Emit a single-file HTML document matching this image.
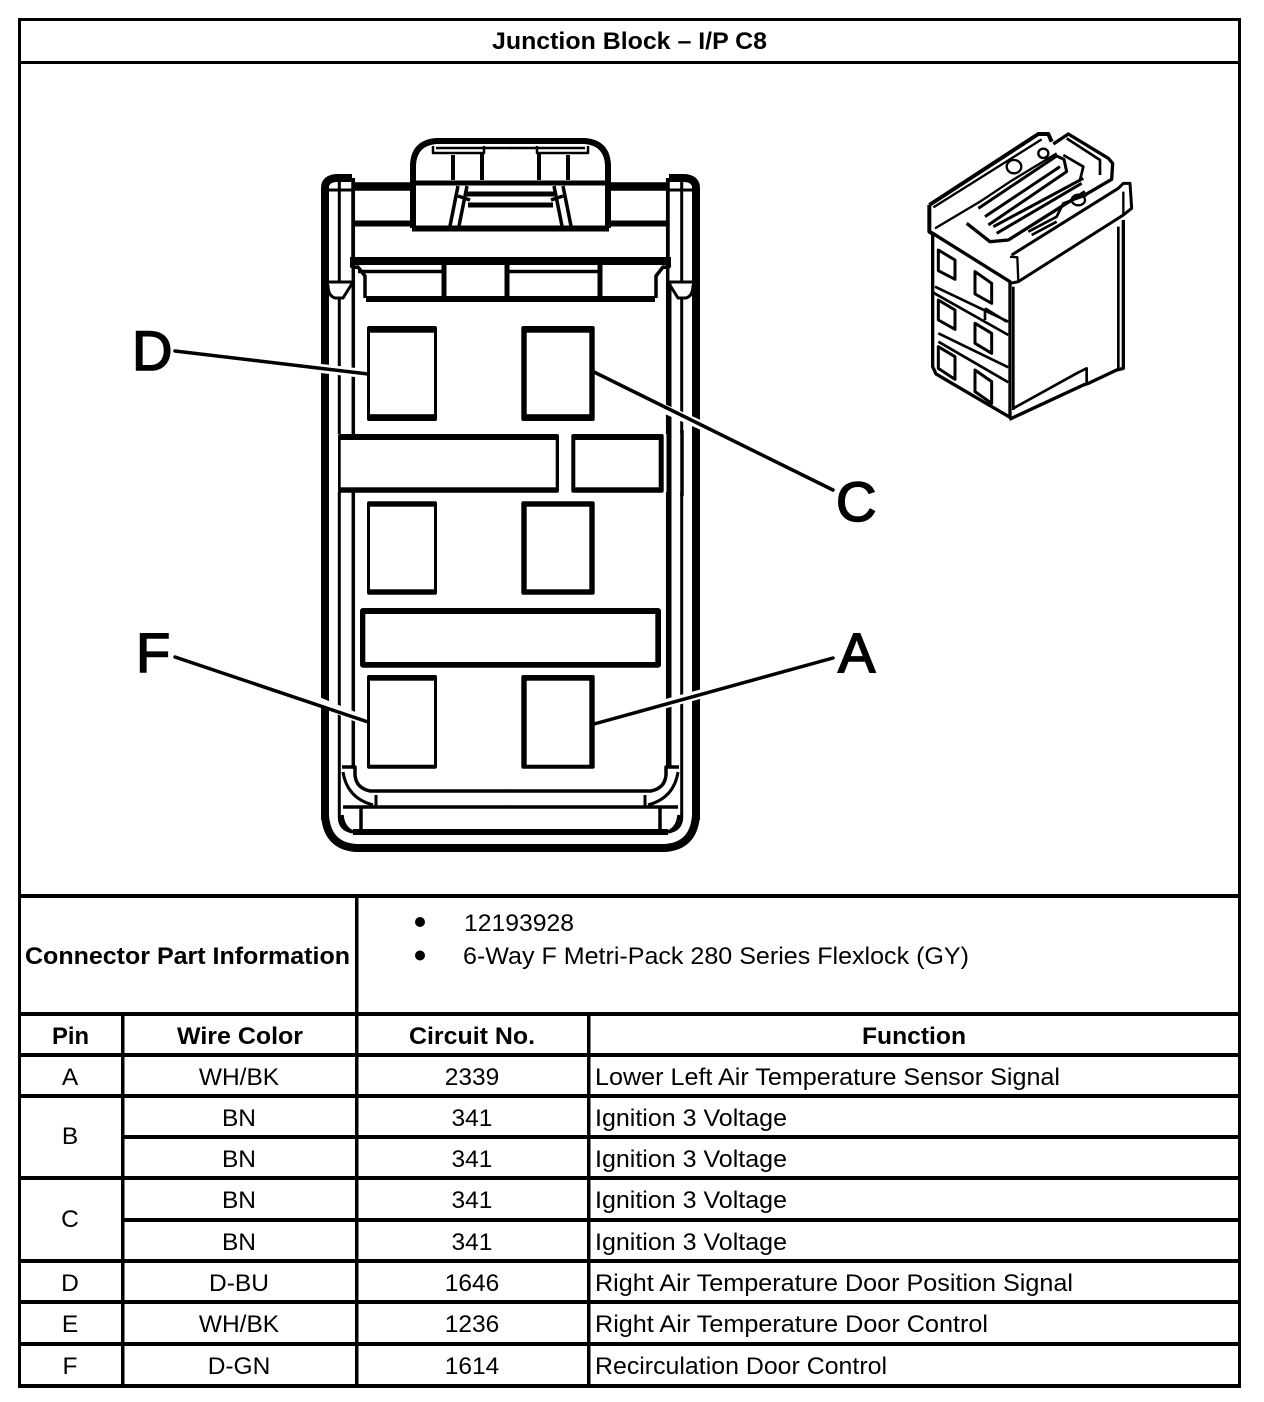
<!DOCTYPE html>
<html><head><meta charset="utf-8"><style>
html,body{margin:0;padding:0;background:#fff;width:1264px;height:1402px;overflow:hidden}
svg{display:block}
text{font-family:"Liberation Sans",sans-serif;font-size:24.5px;fill:#000}
.b{font-weight:bold}
.m{text-anchor:middle}
.big{font-size:56px;stroke:#000;stroke-width:1.6px}
.l{fill:none;stroke:#000;stroke-linejoin:round;stroke-linecap:butt}
</style></head><body>
<svg width="1264" height="1402" viewBox="0 0 1264 1402" xmlns="http://www.w3.org/2000/svg">
<rect width="1264" height="1402" fill="#fff"/>

<!-- table grid -->
<g fill="#000" shape-rendering="crispEdges">
<rect x="18" y="18" width="1223" height="3"/>
<rect x="18" y="61" width="1223" height="3"/>
<rect x="18" y="894" width="1223" height="4"/>
<rect x="18" y="1012" width="1223" height="4"/>
<rect x="18" y="1053" width="1223" height="4"/>
<rect x="18" y="1094" width="1223" height="4"/>
<rect x="122" y="1135" width="1119" height="4"/>
<rect x="18" y="1176" width="1223" height="4"/>
<rect x="122" y="1218" width="1119" height="4"/>
<rect x="18" y="1259" width="1223" height="4"/>
<rect x="18" y="1300" width="1223" height="4"/>
<rect x="18" y="1342" width="1223" height="4"/>
<rect x="18" y="1384" width="1223" height="4"/>
<rect x="18" y="18" width="3" height="1370"/>
<rect x="1238" y="18" width="3" height="1370"/>
<rect x="121" y="1014" width="3.5" height="372"/>
<rect x="355" y="896" width="3.5" height="490"/>
<rect x="587" y="1014" width="3.5" height="372"/>
</g>

<!-- main connector: symmetric half, mirrored -->
<defs>
<g id="half">
<path class="l" stroke-width="8" d="M325 820V188Q325 179 336 178H352"/>
<path class="l" stroke-width="3" d="M339.3 178V282M339.3 298V434M339.3 492V818Q340 830 353 832"/>
<path class="l" stroke-width="3.5" d="M353.3 178V434M353.3 492V767"/>
<path class="l" stroke-width="3" d="M328 190H353M328 282H353L343 298H335Q328 296 328 285"/>
<path class="l" stroke-width="8" d="M325 815Q327 846 356 848H511"/>
<path class="l" stroke-width="6" d="M353 832H511"/>
<path class="l" stroke-width="3.5" d="M342 767H355V775Q356 788 370 791H511"/>
<path class="l" stroke-width="3" d="M343 772Q347 798 373 805M376 795V806"/>
<path class="l" stroke-width="3.5" d="M343 807H511M361 807V830M342 815Q343 828 353 832"/>
<path class="l" stroke-width="8.5" d="M352 186.500H411"/>
<path class="l" stroke-width="6" d="M352 223.500H412"/>
<path class="l" stroke-width="3.500" d="M353 182V260"/>
<path class="l" stroke-width="8" d="M350 261H511"/>
<path class="l" stroke-width="3.500" d="M352 265Q350 268 358 267L365 276V298"/>
<path class="l" stroke-width="6" d="M366 299H511"/>
<path class="l" stroke-width="6" d="M413 228V165Q414 143 436 141H511"/>
<path class="l" stroke-width="5" d="M413 183H511"/>
<path class="l" stroke-width="6" d="M412 228.500H511"/>
<path class="l" stroke-width="2.500" d="M433 146V153H484V146M436 148H511"/>
<path class="l" stroke-width="4" d="M453 155V180M482 153V180"/>
<path class="l" stroke-width="3.500" d="M458 186L450 226M467 186L459 226M458 196L470 200"/>
<path class="l" stroke-width="5" d="M467 194H511M468 205H511"/>
</g>
</defs>
<use href="#half"/>
<use href="#half" transform="translate(1021 0) scale(-1 1)"/>
<!-- asymmetric top details -->
<path class="l" stroke-width="3.500" d="M358 271.500H444M507 271.500H600"/>
<path class="l" stroke-width="5" d="M444 264V298M507 264V298M600 264V298"/>
<!-- right side lines are continuous past the bars -->
<path class="l" stroke-width="5" d="M669 282V767"/>
<path class="l" stroke-width="3.500" d="M682 430V496"/>

<!-- leaders with halo -->
<g fill="none" stroke="#fff" stroke-width="9">
<path d="M300 366L368 374"/><path d="M300 694L368 722"/>
<path d="M640 398L730 438"/><path d="M650 708L730 686"/>
</g>
<g stroke="#000" stroke-width="3.500" fill="none" stroke-linecap="round">
<path d="M175 351L368 374"/>
<path d="M175 657L368 722"/>
<path d="M594 372L833 490"/>
<path d="M594 724L833 658"/>
</g>

<!-- cavities -->
<g>
<rect x="367" y="326" width="70" height="95" rx="2"/><rect x="370" y="332.700" width="64" height="81.500" fill="#fff"/>
<rect x="521.300" y="326" width="73.400" height="95" rx="2"/><rect x="526.700" y="332.700" width="62.600" height="81.500" fill="#fff"/>
<rect x="367" y="501.300" width="70" height="93.400" rx="2"/><rect x="370" y="506.700" width="64" height="82.600" fill="#fff"/>
<rect x="521.300" y="501.300" width="73.400" height="93.400" rx="2"/><rect x="526.700" y="506.700" width="62.600" height="82.600" fill="#fff"/>
<rect x="367" y="675" width="70" height="93.700" rx="2"/><rect x="370" y="680.700" width="64" height="84" fill="#fff"/>
<rect x="521.300" y="675" width="73.400" height="93.700" rx="2"/><rect x="526.700" y="680.700" width="62.600" height="84" fill="#fff"/>
<rect x="338" y="434" width="221" height="58.700" rx="2"/><rect x="340.700" y="440" width="215" height="47.300" fill="#fff"/>
<rect x="571.300" y="434" width="92.400" height="58.700" rx="2"/><rect x="575.300" y="440" width="83.400" height="47.300" fill="#fff"/>
<rect x="360" y="608" width="301" height="59.700" rx="3"/><rect x="365.300" y="614" width="290" height="48" fill="#fff"/>
</g>

<!-- isometric connector -->
<g transform="translate(910 120) scale(.33333)" fill="none" stroke="#000" stroke-linejoin="round" stroke-width="9">
<path stroke-width="12" d="M58 255L385 42L415 42L425 65M58 255V335L75 345"/>
<path stroke-width="7" d="M70 262L395 58M75 325L210 245L300 185L440 100"/>
<path stroke-width="10" d="M430 72L475 42L595 115L608 130L605 178L525 225"/>
<path stroke-width="8" d="M470 55L570 120V165M460 105L520 140L510 180"/>
<path stroke-width="10" d="M170 310L240 365L295 360L525 215"/>
<path stroke-width="9" d="M205 265L440 108L462 118L470 155L235 315M225 290L450 140M250 320L520 175M260 340L515 190"/>
<path stroke-width="8" d="M355 335L440 290L460 250L530 225M365 345L440 305"/>
<ellipse cx="312" cy="140" rx="22" ry="20" stroke-width="7"/>
<ellipse cx="400" cy="100" rx="15" ry="14" stroke-width="7"/>
<ellipse cx="505" cy="240" rx="20" ry="16" stroke-width="7"/>
<path stroke-width="10" d="M68 340L300 485V892L78 762L68 740V340"/>
<path stroke-width="9" d="M305 405L625 205L640 190H660L665 265L640 285L325 485L300 490"/>
<path stroke-width="7" d="M300 410L322 412L325 485M640 215V285"/>
<path stroke-width="10" d="M640 300V745L620 750L535 790L520 795L298 898"/>
<path stroke-width="8" d="M625 320V745M310 500V870M310 865L500 760L530 745V790"/>
<path stroke-width="8" d="M75 500L295 605M70 518L295 645M85 640L295 742M85 665L295 787M225 565L290 605M225 565V600"/>
<path d="M85 390L135 420V478L85 452Z M195 455L245 490V550L195 522Z M85 540L135 570V628L85 600Z M195 610L245 640V700L195 670Z M85 680L135 710V778L85 745Z M195 750L245 785V850L195 815Z"/>
</g>

<!-- big letters -->
<text class="big" x="132" y="370">D</text>
<text class="big" x="836" y="521">C</text>
<text class="big" x="136" y="672">F</text>
<text class="big" x="838" y="672">A</text>

<!-- table text -->
<text class="b" x="492" y="49" textLength="275" lengthAdjust="spacingAndGlyphs">Junction Block – I/P C8</text>
<text class="b" x="25" y="964" textLength="325" lengthAdjust="spacingAndGlyphs">Connector Part Information</text>
<circle cx="420" cy="922" r="5"/><circle cx="420" cy="955.500" r="5"/>
<text x="464" y="931" textLength="110" lengthAdjust="spacingAndGlyphs">12193928</text>
<text x="463" y="964" textLength="506" lengthAdjust="spacingAndGlyphs">6-Way F Metri-Pack 280 Series Flexlock (GY)</text>

<text class="b" x="52" y="1044" textLength="37" lengthAdjust="spacingAndGlyphs">Pin</text>
<text class="b" x="177" y="1044" textLength="126" lengthAdjust="spacingAndGlyphs">Wire Color</text>
<text class="b" x="409" y="1044" textLength="126" lengthAdjust="spacingAndGlyphs">Circuit No.</text>
<text class="b" x="862" y="1044" textLength="104" lengthAdjust="spacingAndGlyphs">Function</text>

<text class="m" x="70" y="1085">A</text><text class="m" x="239" y="1085">WH/BK</text><text class="m" x="472" y="1085">2339</text>
<text x="595" y="1085" textLength="465" lengthAdjust="spacingAndGlyphs">Lower Left Air Temperature Sensor Signal</text>

<text class="m" x="70" y="1144">B</text>
<text class="m" x="239" y="1126">BN</text><text class="m" x="472" y="1126">341</text>
<text x="595" y="1126" textLength="192" lengthAdjust="spacingAndGlyphs">Ignition 3 Voltage</text>
<text class="m" x="239" y="1167">BN</text><text class="m" x="472" y="1167">341</text>
<text x="595" y="1167" textLength="192" lengthAdjust="spacingAndGlyphs">Ignition 3 Voltage</text>

<text class="m" x="70" y="1227">C</text>
<text class="m" x="239" y="1208">BN</text><text class="m" x="472" y="1208">341</text>
<text x="595" y="1208" textLength="192" lengthAdjust="spacingAndGlyphs">Ignition 3 Voltage</text>
<text class="m" x="239" y="1250">BN</text><text class="m" x="472" y="1250">341</text>
<text x="595" y="1250" textLength="192" lengthAdjust="spacingAndGlyphs">Ignition 3 Voltage</text>

<text class="m" x="70" y="1291">D</text><text class="m" x="239" y="1291">D-BU</text><text class="m" x="472" y="1291">1646</text>
<text x="595" y="1291" textLength="478" lengthAdjust="spacingAndGlyphs">Right Air Temperature Door Position Signal</text>
<text class="m" x="70" y="1332">E</text><text class="m" x="239" y="1332">WH/BK</text><text class="m" x="472" y="1332">1236</text>
<text x="595" y="1332" textLength="393" lengthAdjust="spacingAndGlyphs">Right Air Temperature Door Control</text>
<text class="m" x="70" y="1374">F</text><text class="m" x="239" y="1374">D-GN</text><text class="m" x="472" y="1374">1614</text>
<text x="595" y="1374" textLength="292" lengthAdjust="spacingAndGlyphs">Recirculation Door Control</text>
</svg>
</body></html>
